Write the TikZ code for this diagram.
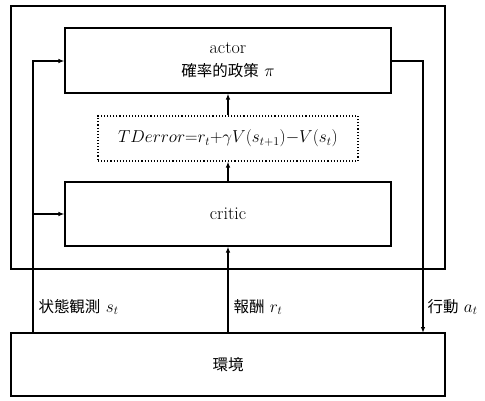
\documentclass[tikz,border=0pt]{standalone}
\usepackage{fontspec}
\newfontfamily\cjk{Noto Sans CJK JP}[Scale=0.86]
\usetikzlibrary{arrows.meta}
\begin{document}
\begin{tikzpicture}[x=1pt,y=-1pt,
  box/.style={draw,line width=1.1pt,inner sep=0pt},
  conn/.style={line width=1.1pt},
  arr/.style={conn,-{Latex[length=6pt,width=4.5pt]}},
  big/.style={font=\fontsize{18}{23}\selectfont},
  lbl/.style={big,anchor=west}]
\useasboundingbox (0,0) rectangle (485,401);
\draw[box] (11,6) rectangle (445,269);
\node[box,big,minimum width=326pt,minimum height=65pt,align=center] (actor) at (228,60.5) {actor\\{\cjk 確率的政策} $\pi$};
\node[box,dotted,minimum width=260pt,minimum height=45pt,font=\fontsize{16.5}{18}\selectfont] (td) at (228,138.5) {$TDerror{=}r_t{+}\gamma V(s_{t+1}){-}V(s_t)$};
\node[box,big,minimum width=326pt,minimum height=64pt] (critic) at (228,214) {critic};
\node[box,big,minimum width=434pt,minimum height=63pt] (env) at (228,364.5) {\cjk 環境};
\coordinate (sL) at (33,333);
\coordinate (aR) at (423,333);
\draw[arr] (critic) -- (td);
\draw[arr] (td) -- (actor);
\draw[arr] (env.north) -- (critic.south);
\draw[arr] (sL) -- (33,61) -- (actor.west |- 0,61);
\draw[arr] (33,214) -- (critic.west);
\draw[arr] (actor.east |- 0,61) -- (423,61) -- (aR);
\node[lbl] (ls) at (35,307) {{\cjk 状態観測} $s_t$};
\node[lbl] (lr) at (230,307) {{\cjk 報酬} $r_t$};
\node[lbl] (la) at (424,307) {{\cjk 行動} $a_t$};
\end{tikzpicture}
\end{document}
